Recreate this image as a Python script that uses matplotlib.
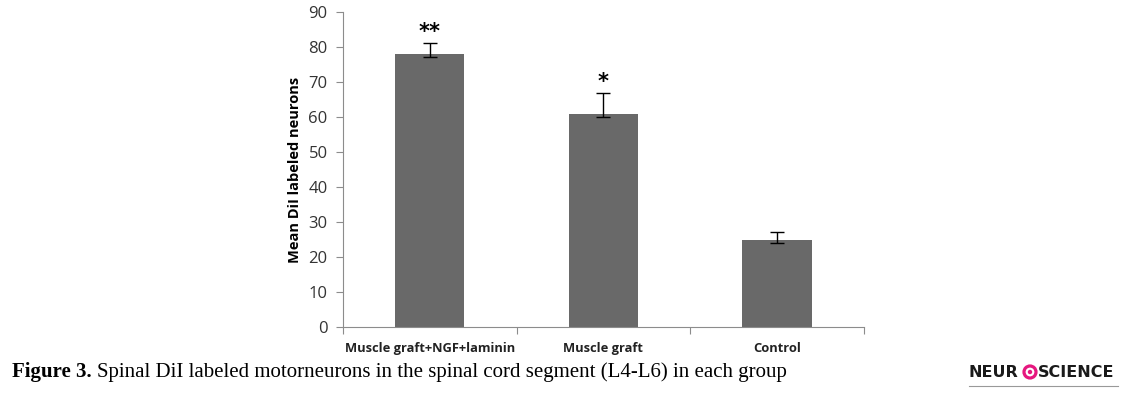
import matplotlib as mpl
mpl.use('Agg')
import matplotlib.pyplot as plt
from matplotlib.patches import Circle

# data
groups = ['Muscle graft+NGF+laminin', 'Muscle graft', 'Control']
means = [78.0, 60.9, 25.0]
err_low = [1.0, 0.9, 1.0]
err_high = [3.1, 6.0, 2.0]
stars = ['**', '*', '']
yticks = [0, 10, 20, 30, 40, 50, 60, 70, 80, 90]

bar_color = '#696969'
axis_color = '#8c8c8c'

fig = plt.figure(figsize=(11.32, 3.95), dpi=100)
ax = fig.add_axes([0.303, 0.172, 0.46, 0.798])

x = list(range(len(groups)))
ax.bar(x, means, width=0.4, color=bar_color, zorder=2)
ax.errorbar(x, means, yerr=[err_low, err_high], fmt='none', ecolor='black',
            elinewidth=1, capsize=5, capthick=1, zorder=3)

# significance marks above the error bars
for xi, m, hi, s in zip(x, means, err_high, stars):
    if s:
        ax.text(xi, m + hi + 0.3, s, ha='center', va='bottom', fontsize=15,
                fontweight='bold', family='DejaVu Sans', color='black')

ax.set_xlim(-0.5, len(groups) - 0.5)
ax.set_ylim(0, 90)
ax.set_yticks(yticks)
ax.set_yticklabels([str(t) for t in yticks], fontsize=12, family='Open Sans', color='#333333')

# category labels between boundary ticks
ax.set_xticks([i - 0.5 for i in range(len(groups) + 1)])
ax.set_xticklabels([])
for xi, g in zip(x, groups):
    ax.text(xi, -4.3, g, ha='center', va='top', fontsize=9.3, fontweight='bold',
            family='Open Sans', color='#222222')

ax.tick_params(axis='y', length=5, color=axis_color, pad=6)
ax.tick_params(axis='x', length=5, color=axis_color)
for side in ['top', 'right']:
    ax.spines[side].set_visible(False)
for side in ['left', 'bottom']:
    ax.spines[side].set_color(axis_color)

ax.set_ylabel('Mean DiI labeled neurons', fontsize=10.5, fontweight='bold',
              family='Open Sans', labelpad=5)

# caption
cap_y = 0.045
t1 = fig.text(0.011, cap_y, 'Figure 3.', fontsize=15, fontweight='bold',
              family='Liberation Serif', va='baseline')
fig.canvas.draw()
bb = t1.get_window_extent().transformed(fig.transFigure.inverted())
fig.text(bb.x1 + 0.004, cap_y, 'Spinal DiI labeled motorneurons in the spinal cord segment (L4-L6) in each group',
         fontsize=15, family='Liberation Serif', va='baseline')

# journal logo
fig.text(0.856, cap_y, 'NEUR', fontsize=11.5, fontweight='bold', family='DejaVu Sans',
         va='baseline', color='#1a1a1a')
fig.text(0.917, cap_y, 'SCIENCE', fontsize=11.5, fontweight='bold', family='DejaVu Sans',
         va='baseline', color='#1a1a1a')
fig.patches.append(Circle((1030, 395 - 372), 6.0, transform=None,
                          facecolor='none', edgecolor='#e6177f', lw=2.3))
fig.patches.append(Circle((1030, 395 - 372), 2.2, transform=None,
                          facecolor='#e6177f', edgecolor='none'))
fig.add_artist(plt.Line2D([0.856, 0.988], [0.022, 0.022], transform=fig.transFigure,
                          color='#999999', lw=0.8))

fig.savefig('out.png', dpi=100)
